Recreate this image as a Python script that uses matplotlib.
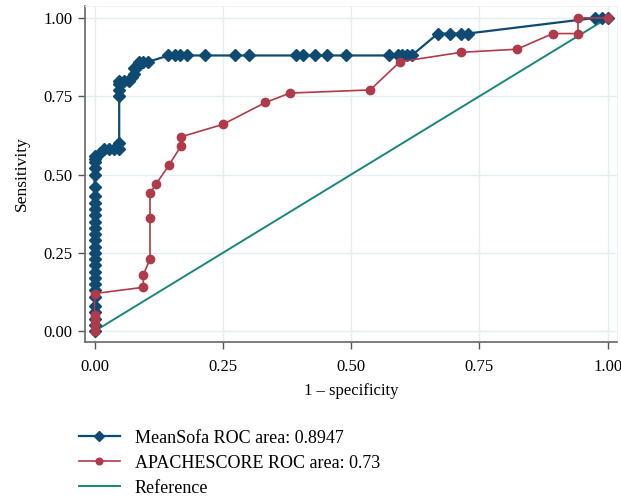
import matplotlib.pyplot as plt

plt.rcParams["font.family"] = ["Liberation Serif", "DejaVu Serif"]

# MeanSofa ROC points (1 - specificity, sensitivity)
sofa_fpr = [0.0, 0.0, 0.0, 0.0, 0.0, 0.0, 0.0, 0.0, 0.0, 0.0, 0.0, 0.0, 0.0,
            0.0, 0.0, 0.0, 0.0, 0.0, 0.0, 0.0, 0.0, 0.0, 0.0, 0.0, 0.0, 0.0,
            0.0, 0.0, 0.011, 0.019, 0.029, 0.038, 0.048, 0.048, 0.048, 0.048,
            0.048, 0.048, 0.057, 0.067, 0.072, 0.076, 0.076, 0.081, 0.086,
            0.095, 0.105, 0.144, 0.157, 0.167, 0.18, 0.215, 0.274, 0.30,
            0.393, 0.406, 0.43, 0.453, 0.49, 0.573, 0.592, 0.599, 0.609,
            0.618, 0.669, 0.693, 0.714, 0.727, 0.976, 0.989, 1.0]
sofa_tpr = [0.0, 0.02, 0.04, 0.06, 0.08, 0.11, 0.13, 0.15, 0.17, 0.19, 0.21,
            0.23, 0.25, 0.27, 0.29, 0.31, 0.33, 0.35, 0.37, 0.39, 0.41, 0.43,
            0.46, 0.50, 0.52, 0.54, 0.55, 0.56, 0.57, 0.58, 0.58, 0.58, 0.58,
            0.60, 0.75, 0.77, 0.79, 0.80, 0.80, 0.80, 0.81, 0.82, 0.84, 0.84,
            0.86, 0.86, 0.86, 0.88, 0.88, 0.88, 0.88, 0.88, 0.88, 0.88, 0.88,
            0.88, 0.88, 0.88, 0.88, 0.88, 0.88, 0.88, 0.88, 0.88, 0.95, 0.95,
            0.95, 0.95, 1.0, 1.0, 1.0]

# APACHESCORE ROC points
apache_fpr = [0.0, 0.0, 0.0, 0.0, 0.0, 0.095, 0.095, 0.108, 0.108, 0.108,
              0.12, 0.145, 0.168, 0.168, 0.25, 0.333, 0.381, 0.537, 0.595,
              0.714, 0.823, 0.893, 0.942, 0.942, 1.0]
apache_tpr = [0.0, 0.02, 0.035, 0.05, 0.12, 0.14, 0.18, 0.23, 0.36, 0.44,
              0.47, 0.53, 0.59, 0.62, 0.66, 0.73, 0.76, 0.77, 0.86, 0.89,
              0.90, 0.95, 0.95, 1.0, 1.0]

ref_x = [0.0, 1.0]
ticks = [0.0, 0.25, 0.5, 0.75, 1.0]
tick_labels = ["0.00", "0.25", "0.50", "0.75", "1.00"]

blue = "#0f4a73"
red = "#b03a48"
teal = "#17877b"

fig = plt.figure(figsize=(6.21, 4.98), dpi=100)
ax = fig.add_axes([0.137, 0.313, 0.857, 0.675])

ax.plot(sofa_fpr, sofa_tpr, "-D", color=blue, lw=1.6, markersize=6,
        label="MeanSofa ROC area: 0.8947", zorder=3)
ax.plot(apache_fpr, apache_tpr, "-o", color=red, lw=1.2, markersize=6,
        label="APACHESCORE ROC area: 0.73", zorder=4)
ax.plot(ref_x, ref_x, "-", color=teal, lw=1.4, label="Reference", zorder=2)

ax.set_xlim(-0.0185, 1.0185)
ax.set_ylim(-0.035, 1.038)
ax.set_xticks(ticks)
ax.set_xticklabels(tick_labels)
ax.set_yticks(ticks)
ax.set_yticklabels(tick_labels)
ax.grid(color="#e3eef1", lw=1.0)
ax.set_axisbelow(True)
ax.tick_params(labelsize=12, length=5, color="#555555", width=1)
ax.tick_params(axis="x", pad=7)
ax.tick_params(axis="y", pad=4)

for side in ["top", "right"]:
    ax.spines[side].set_color("#eef4f6")
for side in ["left", "bottom"]:
    ax.spines[side].set_color("#666666")
    ax.spines[side].set_linewidth(1.2)

ax.set_xlabel("1 \u2013 specificity", fontsize=12, labelpad=6)
ax.set_ylabel("Sensitivity", fontsize=12.5, labelpad=10)

fig.legend(loc="upper left", bbox_to_anchor=(0.115, 0.152), frameon=False,
           fontsize=13, numpoints=1, handlelength=2.3, handletextpad=0.8,
           labelspacing=0.45, borderaxespad=0, markerscale=0.8)

fig.savefig("out.png", dpi=100)
